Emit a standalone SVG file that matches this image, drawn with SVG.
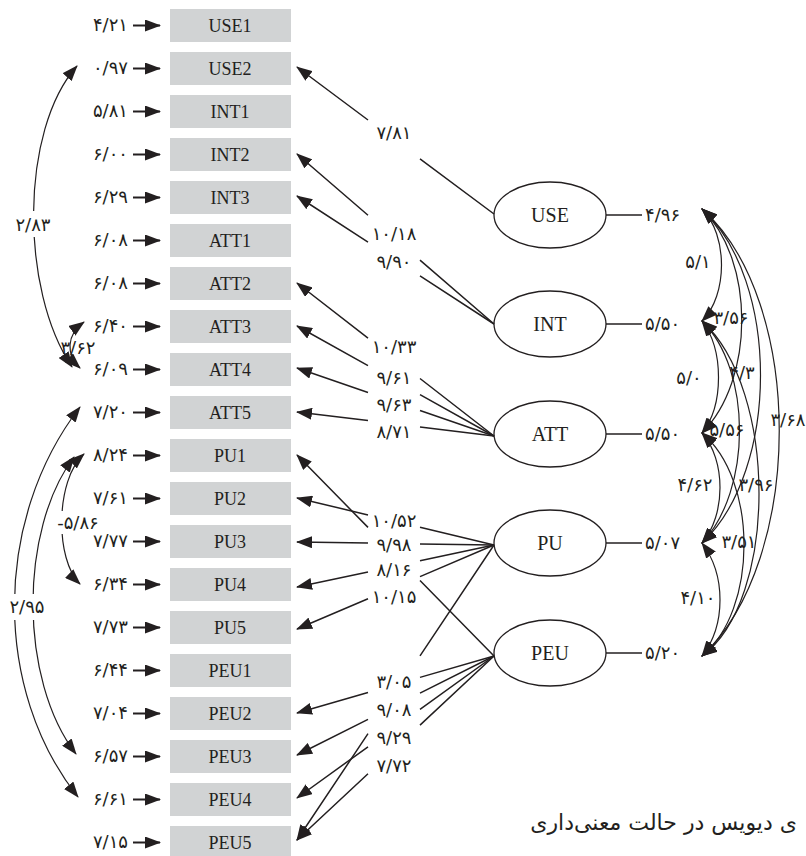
<svg xmlns="http://www.w3.org/2000/svg" width="806" height="856" viewBox="0 0 806 856">
<style>
.box{fill:#d1d3d4}
.bl{font-family:"Liberation Serif",serif;font-size:18px;text-anchor:middle;fill:#231f20}
.el{fill:#fff;stroke:#231f20;stroke-width:1.3}
.n{font-family:"DejaVu Sans",sans-serif;font-size:18px;letter-spacing:1.5px;fill:#231f20}
.nr{text-anchor:end}
.nm{text-anchor:middle}
.ln{stroke:#231f20;stroke-width:1.4;fill:none}
.lh{stroke:#231f20;stroke-width:1.5;fill:none;marker-end:url(#ah)}
.le{stroke:#231f20;stroke-width:2;fill:none;marker-end:url(#ah)}
.lhh{stroke:#231f20;stroke-width:1.2;fill:none;marker-start:url(#ah);marker-end:url(#ah)}
.bg{fill:#fff}
</style>
<defs>
<marker id="ah" viewBox="0 0 16 12" refX="15" refY="6" markerWidth="16" markerHeight="12" markerUnits="userSpaceOnUse" orient="auto-start-reverse"><path d="M0,0 L16,6 L0,12 z" fill="#231f20"/></marker>
</defs>

<g id="indicators">
<g id="USE1"><rect class="box" x="170" y="9" width="121" height="33"/><text class="bl" x="230" y="32">USE1</text></g>
<g id="USE2"><rect class="box" x="170" y="52" width="121" height="33"/><text class="bl" x="230" y="75">USE2</text></g>
<g id="INT1"><rect class="box" x="170" y="95" width="121" height="33"/><text class="bl" x="230" y="118">INT1</text></g>
<g id="INT2"><rect class="box" x="170" y="138" width="121" height="33"/><text class="bl" x="230" y="161">INT2</text></g>
<g id="INT3"><rect class="box" x="170" y="181" width="121" height="33"/><text class="bl" x="230" y="204">INT3</text></g>
<g id="ATT1"><rect class="box" x="170" y="224" width="121" height="33"/><text class="bl" x="230" y="247">ATT1</text></g>
<g id="ATT2"><rect class="box" x="170" y="267" width="121" height="33"/><text class="bl" x="230" y="290">ATT2</text></g>
<g id="ATT3"><rect class="box" x="170" y="310" width="121" height="33"/><text class="bl" x="230" y="333">ATT3</text></g>
<g id="ATT4"><rect class="box" x="170" y="353" width="121" height="33"/><text class="bl" x="230" y="376">ATT4</text></g>
<g id="ATT5"><rect class="box" x="170" y="396" width="121" height="33"/><text class="bl" x="230" y="419">ATT5</text></g>
<g id="PU1"><rect class="box" x="170" y="439" width="121" height="33"/><text class="bl" x="230" y="462">PU1</text></g>
<g id="PU2"><rect class="box" x="170" y="482" width="121" height="33"/><text class="bl" x="230" y="505">PU2</text></g>
<g id="PU3"><rect class="box" x="170" y="525" width="121" height="33"/><text class="bl" x="230" y="548">PU3</text></g>
<g id="PU4"><rect class="box" x="170" y="568" width="121" height="33"/><text class="bl" x="230" y="591">PU4</text></g>
<g id="PU5"><rect class="box" x="170" y="611" width="121" height="33"/><text class="bl" x="230" y="634">PU5</text></g>
<g id="PEU1"><rect class="box" x="170" y="654" width="121" height="33"/><text class="bl" x="230" y="677">PEU1</text></g>
<g id="PEU2"><rect class="box" x="170" y="697" width="121" height="33"/><text class="bl" x="230" y="720">PEU2</text></g>
<g id="PEU3"><rect class="box" x="170" y="740" width="121" height="33"/><text class="bl" x="230" y="763">PEU3</text></g>
<g id="PEU4"><rect class="box" x="170" y="783" width="121" height="33"/><text class="bl" x="230" y="806">PEU4</text></g>
<g id="PEU5"><rect class="box" x="170" y="826" width="121" height="33"/><text class="bl" x="230" y="849">PEU5</text></g>
</g>

<g id="latents">
<g id="USE"><ellipse class="el" cx="550" cy="215" rx="56" ry="33"/><text class="bl" x="550" y="222" style="font-size:20px">USE</text></g>
<g id="INT"><ellipse class="el" cx="550" cy="324" rx="56" ry="33"/><text class="bl" x="550" y="331" style="font-size:20px">INT</text></g>
<g id="ATT"><ellipse class="el" cx="550" cy="434" rx="56" ry="33"/><text class="bl" x="550" y="441" style="font-size:20px">ATT</text></g>
<g id="PU"><ellipse class="el" cx="550" cy="543" rx="56" ry="33"/><text class="bl" x="550" y="550" style="font-size:20px">PU</text></g>
<g id="PEU"><ellipse class="el" cx="550" cy="653" rx="56" ry="33"/><text class="bl" x="550" y="660" style="font-size:20px">PEU</text></g>
</g>

<g id="connectors">
<g id="errors">
<path class="le" d="M133,25.5H160"/>
<path class="le" d="M133,68.5H160"/>
<path class="le" d="M133,111.5H160"/>
<path class="le" d="M133,154.5H160"/>
<path class="le" d="M133,197.5H160"/>
<path class="le" d="M133,240.5H160"/>
<path class="le" d="M133,283.5H160"/>
<path class="le" d="M133,326.5H160"/>
<path class="le" d="M133,369.5H160"/>
<path class="le" d="M133,412.5H160"/>
<path class="le" d="M133,455.5H160"/>
<path class="le" d="M133,498.5H160"/>
<path class="le" d="M133,541.5H160"/>
<path class="le" d="M133,584.5H160"/>
<path class="le" d="M133,627.5H160"/>
<path class="le" d="M133,670.5H160"/>
<path class="le" d="M133,713.5H160"/>
<path class="le" d="M133,756.5H160"/>
<path class="le" d="M133,799.5H160"/>
<path class="le" d="M133,842.5H160"/>
</g>
<g id="loadings">
<path class="lh" d="M494,214L420,158.8M368,120L297,67"/>
<path class="lh" d="M494,324L420,260.1M368,215.3L297,154"/>
<path class="lh" d="M494,324L420,275.9M368,242.1L297,196"/>
<path class="lh" d="M494,436L420,378.5M368,338.1L297,283"/>
<path class="lh" d="M494,436L420,394.7M368,365.6L297,326"/>
<path class="lh" d="M494,436L420,410.5M368,392.5L297,368"/>
<path class="lh" d="M494,436L420,427M368,420.6L297,412"/>
<path class="lh" d="M494,656L420,580.5M368,527.4L297,455"/>
<path class="lh" d="M494,545L420,527.3M368,514.9L297,498"/>
<path class="lh" d="M494,545L420,543.9M368,543.1L297,542"/>
<path class="lh" d="M494,545L420,560.8M368,571.9L297,587"/>
<path class="lh" d="M494,545L420,576.6M368,598.7L297,629"/>
<path class="lh" d="M494,656L420,677.4M368,692.5L297,713"/>
<path class="lh" d="M494,656L420,693.2M368,719.3L297,755"/>
<path class="lh" d="M494,656L420,709.3M368,746.8L297,798"/>
<path class="lh" d="M494,656L420,725.1M368,773.7L297,840"/>
<path class="lh" d="M494,545L420,655.8M368,733.7L297,840"/>
</g>
<g id="ticks">
<path class="ln" d="M606,215H642"/>
<path class="ln" d="M606,324H642"/>
<path class="ln" d="M606,434H642"/>
<path class="ln" d="M606,543H642"/>
<path class="ln" d="M606,653H642"/>
</g>
<g id="cov-right">
<path class="lhh" d="M702,209C728,235 728,295 702,321"/>
<path class="lhh" d="M702,209C755,260 755,380 702,433"/>
<path class="lhh" d="M702,209C780,280 780,470 702,543"/>
<path class="lhh" d="M702,209C805,300 805,560 702,656"/>
<path class="lhh" d="M702,321C724,350 724,405 702,433"/>
<path class="lhh" d="M702,321C752,370 752,490 702,543"/>
<path class="lhh" d="M702,321C778,390 778,600 702,656"/>
<path class="lhh" d="M702,433C726,460 726,515 702,543"/>
<path class="lhh" d="M702,433C758,480 758,610 702,656"/>
<path class="lhh" d="M702,543C726,575 726,625 702,656"/>
</g>
<g id="cov-left">
<path class="lhh" d="M77,66C20,130 20,290 72,367"/>
<path class="lhh" d="M84,322C66,335 66,355 80,368"/>
<path class="lhh" d="M84,454C55,480 55,560 80,584"/>
<path class="lhh" d="M80,407C-7,520 -7,690 78,797"/>
<path class="lhh" d="M74,457C19,530 19,680 76,754"/>
</g>
</g>

<g id="labels-left">
<text class="n nr" x="128" y="31">۴/۲۱</text>
<text class="n nr" x="128" y="74">۰/۹۷</text>
<text class="n nr" x="128" y="117">۵/۸۱</text>
<text class="n nr" x="128" y="160">۶/۰۰</text>
<text class="n nr" x="128" y="203">۶/۲۹</text>
<text class="n nr" x="128" y="246">۶/۰۸</text>
<text class="n nr" x="128" y="289">۶/۰۸</text>
<text class="n nr" x="128" y="332">۶/۴۰</text>
<text class="n nr" x="128" y="375">۶/۰۹</text>
<text class="n nr" x="128" y="418">۷/۲۰</text>
<text class="n nr" x="128" y="461">۸/۲۴</text>
<text class="n nr" x="128" y="504">۷/۶۱</text>
<text class="n nr" x="128" y="547">۷/۷۷</text>
<text class="n nr" x="128" y="590">۶/۳۴</text>
<text class="n nr" x="128" y="633">۷/۷۳</text>
<text class="n nr" x="128" y="676">۶/۴۴</text>
<text class="n nr" x="128" y="719">۷/۰۴</text>
<text class="n nr" x="128" y="762">۶/۵۷</text>
<text class="n nr" x="128" y="805">۶/۶۱</text>
<text class="n nr" x="128" y="848">۷/۱۵</text>
<rect class="bg" x="9" y="211" width="46" height="26"/>
<text class="n nm" x="33" y="231">۲/۸۳</text>
<text class="n nm" x="78" y="354">۳/۶۲</text>
<rect class="bg" x="54" y="511" width="48" height="23"/>
<text class="n nm" x="78" y="529">-۵/۸۶</text>
<rect class="bg" x="3" y="594" width="46" height="26"/>
<text class="n nm" x="27" y="613">۲/۹۵</text>
</g>

<g id="labels-mid">
<text class="n nm" x="394" y="139">۷/۸۱</text>
<text class="n nm" x="394" y="240">۱۰/۱۸</text>
<text class="n nm" x="394" y="268">۹/۹۰</text>
<text class="n nm" x="394" y="353">۱۰/۳۳</text>
<text class="n nm" x="394" y="384">۹/۶۱</text>
<text class="n nm" x="394" y="411">۹/۶۳</text>
<text class="n nm" x="394" y="438">۸/۷۱</text>
<text class="n nm" x="394" y="527">۱۰/۵۲</text>
<text class="n nm" x="394" y="551">۹/۹۸</text>
<text class="n nm" x="394" y="576">۸/۱۶</text>
<text class="n nm" x="394" y="603">۱۰/۱۵</text>
<text class="n nm" x="394" y="688">۳/۰۵</text>
<text class="n nm" x="394" y="716">۹/۰۸</text>
<text class="n nm" x="394" y="744">۹/۲۹</text>
<text class="n nm" x="394" y="772">۷/۷۲</text>
</g>

<g id="labels-right">
<text class="n" x="645" y="221">۴/۹۶</text>
<text class="n" x="645" y="330">۵/۵۰</text>
<text class="n" x="645" y="440">۵/۵۰</text>
<text class="n" x="645" y="549">۵/۰۷</text>
<text class="n" x="645" y="659">۵/۲۰</text>
<text class="n nm" x="698" y="268">۵/۱</text>
<text class="n nm" x="731" y="324">۳/۵۶</text>
<text class="n nm" x="689" y="384">۵/۰</text>
<text class="n nm" x="742" y="379">۴/۳</text>
<text class="n nm" x="727" y="436">۵/۵۶</text>
<text class="n nm" x="788" y="426">۳/۶۸</text>
<text class="n nm" x="695" y="491">۴/۶۲</text>
<text class="n nm" x="756" y="491">۳/۹۶</text>
<text class="n nm" x="739" y="548">۳/۵۱</text>
<text class="n nm" x="698" y="604">۴/۱۰</text>
</g>

<g id="caption">
<text x="797" y="830" text-anchor="end" style="font-family:'DejaVu Sans',sans-serif;font-size:22px;fill:#231f20">ی دیویس در حالت معنی‌داری</text>
</g>
</svg>
